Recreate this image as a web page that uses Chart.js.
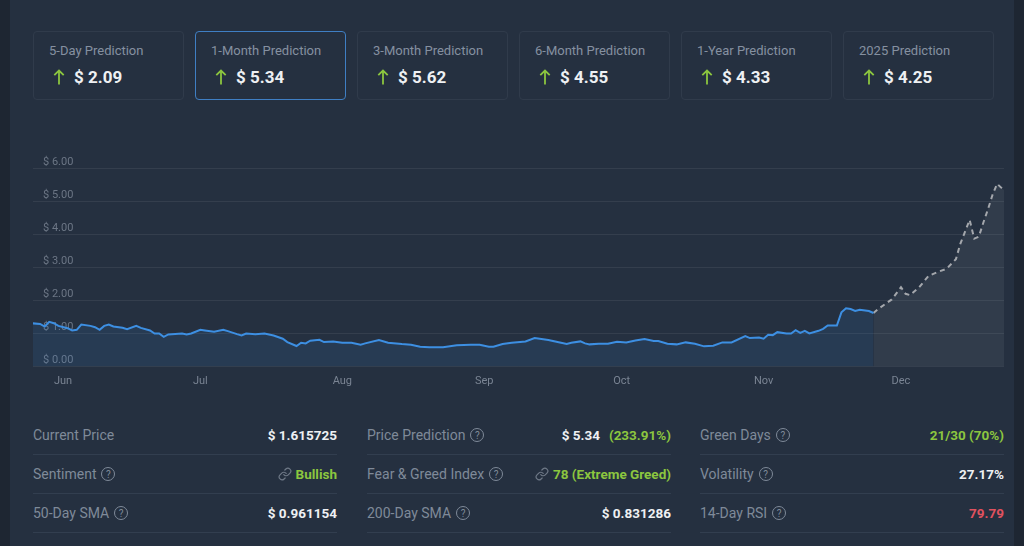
<!DOCTYPE html>
<html>
<head>
<meta charset="utf-8">
<script src="https://cdn.jsdelivr.net/npm/chart.js@4.4.1/dist/chart.umd.min.js"></script>
<style>
  html, body { margin:0; padding:0; }
  body { width:1024px; height:546px; overflow:hidden; background:#1e2632; font-family: Roboto, "Noto Sans", sans-serif; position:relative; }
  #wrap { position:absolute; left:10px; top:0; width:1004px; height:546px; background:#253040; }
  .card { position:absolute; top:31px; width:151px; height:69px; box-sizing:border-box; border:1px solid #303b4b; border-radius:4px; }
  .card.active { border-color:#3f7fc4; }
  .card .t { position:absolute; left:15px; top:11px; font-size:13px; color:#8590a0; white-space:nowrap; }
  .card .v { position:absolute; left:19px; top:35px; display:flex; align-items:center; white-space:nowrap; }
  .card .v svg { margin-right:9px; }
  .card .v span { font-size:17px; font-weight:700; color:#eef0f3; }
  #chartBox { position:absolute; left:33px; top:140px; width:971px; height:250px; }
  .col { position:absolute; top:416px; width:304px; }
  .row { height:39px; box-sizing:border-box; border-bottom:1px solid #323e4f; display:flex; align-items:center; justify-content:space-between; font-size:14px; white-space:nowrap; }
  .lab { color:#7f8a99; display:flex; align-items:center; }
  .q { display:inline-flex; align-items:center; justify-content:center; width:12px; height:12px; border:1.2px solid #7f8a99; border-radius:50%; font-size:10px; margin-left:5px; color:#7f8a99; }
  .val { font-weight:700; color:#eef0f3; display:flex; align-items:center; font-size:13.5px; }
  .green { color:#8cc63f; }
  .red { color:#e0525f; }
  .val svg { margin-right:4px; }
</style>
</head>
<body>
<div id="wrap"></div>
<div id="cards"></div>
<div id="chartBox"><canvas id="c"></canvas></div>
<div id="stats"></div>
<script>
// ---- data ----
const cardTitles = ["5-Day Prediction","1-Month Prediction","3-Month Prediction","6-Month Prediction","1-Year Prediction","2025 Prediction"];
const cardValues = ["$ 2.09","$ 5.34","$ 5.62","$ 4.55","$ 4.33","$ 4.25"];

const monthTickDays = [7,37,68,99,129,160,190];
const monthLabels = ["Jun","Jul","Aug","Sep","Oct","Nov","Dec"];
const yTickValues = [0,1,2,3,4,5,6];

const histDays = [0,2,3,4,5,6,8,9,10,11,13,14,15,16,17,18,20,21,23,24,26,27,28,29,30,33,34,35,37,38,40,42,43,45,46,47,49,51,53,55,56,58,59,60,61,63,64,66,68,70,72,73,76,78,81,83,85,87,90,93,96,98,100,101,103,105,108,110,113,115,117,118,120,121,122,124,126,128,130,132,134,136,137,139,141,143,145,147,149,151,153,156,157,159,160,161,162,163,165,166,167,168,169,170,172,173,174,176,177,178,179,180,181,183,184];
const histValues = [1.31,1.29,1.21,1.35,1.31,1.23,1.16,1.09,1.11,1.27,1.23,1.19,1.11,1.23,1.27,1.21,1.17,1.13,1.23,1.17,1.09,1.00,1.00,0.90,0.97,1.00,0.97,1.00,1.11,1.09,1.05,1.11,1.07,0.98,0.94,1.00,0.98,1.00,0.94,0.84,0.74,0.62,0.72,0.70,0.78,0.81,0.74,0.76,0.72,0.72,0.66,0.70,0.80,0.72,0.68,0.66,0.60,0.58,0.58,0.64,0.66,0.66,0.60,0.60,0.68,0.72,0.76,0.86,0.80,0.74,0.68,0.72,0.76,0.70,0.67,0.69,0.69,0.75,0.73,0.79,0.83,0.77,0.77,0.69,0.67,0.73,0.69,0.61,0.63,0.73,0.73,0.92,0.86,0.88,0.84,0.96,0.95,1.04,1.00,1.00,1.10,1.02,1.08,1.00,1.08,1.14,1.24,1.24,1.64,1.76,1.74,1.68,1.72,1.68,1.62];

const predDays = [184,185,188,190,191,192,194,196,198,200,202,203,205,206,207,208,209,210,211,212,212.5];
const predValues = [1.62,1.74,2.03,2.40,2.20,2.16,2.40,2.74,2.86,2.96,3.25,3.73,4.44,3.87,3.93,4.36,4.76,5.20,5.53,5.40,5.34];

const statLabels = [["Current Price","Sentiment","50-Day SMA"],["Price Prediction","Fear & Greed Index","200-Day SMA"],["Green Days","Volatility","14-Day RSI"]];
const statHelp = [[false,true,true],[true,true,true],[true,true,true]];
const statValues = [["$ 1.615725","Bullish","$ 0.961154"],["$ 5.34","78 (Extreme Greed)","$ 0.831286"],["21/30 (70%)","27.17%","79.79"]];

// ---- cards ----
const arrowSvg = '<svg width="12" height="16" viewBox="0 0 12 16"><path d="M6 15.5 V1.5 M1.3 6.2 L6 1.5 L10.7 6.2" stroke="#8cc63f" stroke-width="1.8" fill="none"/></svg>';
const linkSvg = '<svg width="14" height="14" viewBox="0 0 24 24" fill="none" stroke="#6f7987" stroke-width="2" stroke-linecap="round" stroke-linejoin="round"><path d="M10 13a5 5 0 0 0 7.54.54l3-3a5 5 0 0 0-7.07-7.07l-1.72 1.71"/><path d="M14 11a5 5 0 0 0-7.54-.54l-3 3a5 5 0 0 0 7.07 7.07l1.71-1.71"/></svg>';
let ch = '';
cardTitles.forEach((t,i)=>{
  ch += `<div class="card${i===1?' active':''}" style="left:${33+i*162}px"><div class="t">${t}</div><div class="v">${arrowSvg}<span>${cardValues[i]}</span></div></div>`;
});
document.getElementById('cards').innerHTML = ch;

// ---- stats ----
let sh = '';
const colLefts = [33,367,700];
statLabels.forEach((col,ci)=>{
  sh += `<div class="col" style="left:${colLefts[ci]}px">`;
  col.forEach((lab,ri)=>{
    let v = statValues[ci][ri];
    let vh;
    if (ci===0 && ri===1) vh = `<span class="val green">${linkSvg}${v}</span>`;
    else if (ci===1 && ri===0) vh = `<span class="val">${v}<span class="green" style="margin-left:9px">(233.91%)</span></span>`;
    else if (ci===1 && ri===1) vh = `<span class="val green">${linkSvg}${v}</span>`;
    else if (ci===2 && ri===0) vh = `<span class="val green">${v}</span>`;
    else if (ci===2 && ri===2) vh = `<span class="val red">${v}</span>`;
    else vh = `<span class="val">${v}</span>`;
    sh += `<div class="row"><span class="lab">${lab.replace('&','&amp;')}${statHelp[ci][ri]?'<span class="q">?</span>':''}</span>${vh}</div>`;
  });
  sh += `</div>`;
});
document.getElementById('stats').innerHTML = sh;

// ---- chart ----
Chart.defaults.font.family = 'Roboto, "Noto Sans", sans-serif';
new Chart(document.getElementById('c'), {
  type: 'line',
  data: {
    datasets: [
      {
        data: histDays.map((d,i)=>({x:d, y:histValues[i]})),
        borderColor: '#3d8fe2', borderWidth: 2, pointRadius: 0, tension: 0,
        fill: 'origin', backgroundColor: 'rgba(59,142,226,0.12)'
      },
      {
        data: predDays.map((d,i)=>({x:d, y:predValues[i]})),
        borderColor: '#a4a7ac', borderWidth: 2, borderDash: [5,4], pointRadius: 0, tension: 0,
        fill: 'origin', backgroundColor: 'rgba(160,166,174,0.10)'
      }
    ]
  },
  options: {
    responsive: true, maintainAspectRatio: false, animation: false,
    layout: { padding: { top: 28.3, bottom: 2.3, left: 0, right: 0 } },
    plugins: { legend: { display: false }, tooltip: { enabled: false } },
    scales: {
      x: {
        type: 'linear', min: 0.45, max: 212.5,
        grid: { display: false, drawTicks: false }, border: { display: false },
        afterBuildTicks: axis => { axis.ticks = monthTickDays.map(v => ({ value: v })); },
        afterFit: axis => { axis.height = 21.2; },
        ticks: { autoSkip: false, maxRotation: 0, padding: 8, color: '#7a8493', font: { size: 11 },
          callback: (v, i) => monthLabels[i] }
      },
      y: {
        min: 0, max: 6,
        grid: { color: 'rgba(255,255,255,0.07)', drawTicks: false }, border: { display: false },
        afterBuildTicks: axis => { axis.ticks = yTickValues.map(v => ({ value: v })); },
        afterFit: axis => { axis.width = 0; },
        ticks: { mirror: true, padding: 10, labelOffset: -6.5, color: '#6c7685', font: { size: 11 },
          callback: v => '$ ' + Number(v).toFixed(2) }
      }
    }
  }
});
</script>
</body>
</html>
